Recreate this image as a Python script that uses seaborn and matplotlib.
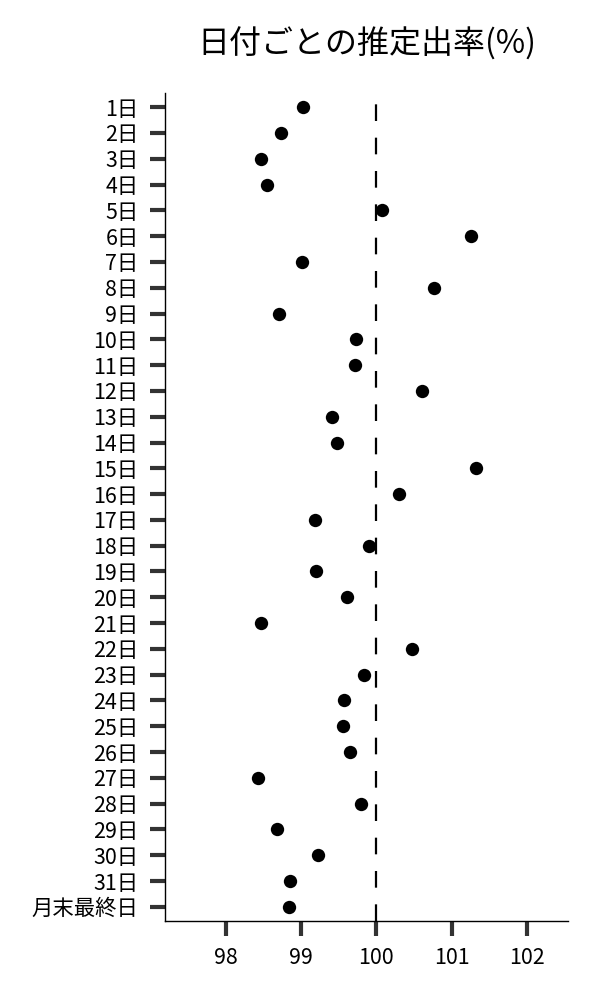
import matplotlib
matplotlib.use("Agg")
import matplotlib.pyplot as plt
import seaborn as sns
import pandas as pd

days = [f"{i}日" for i in range(1, 32)] + ["月末最終日"]
rates = [99.02, 98.73, 98.46, 98.55, 100.08, 101.26, 99.01, 100.76, 98.71, 99.73,
         99.71, 100.61, 99.41, 99.48, 101.33, 100.30, 99.19, 99.90, 99.20, 99.61,
         98.46, 100.48, 99.84, 99.57, 99.55, 99.65, 98.43, 99.80, 98.68, 99.22,
         98.85, 98.84]
xticks = [98, 99, 100, 101, 102]
reference = 100
title = "日付ごとの推定出率(%)"

sns.set_theme(style="ticks")
plt.rcParams['font.family'] = ['Noto Sans CJK JP', 'DejaVu Sans']
plt.rcParams['lines.scale_dashes'] = False

df = pd.DataFrame({"day": days, "rate": rates})

fig = plt.figure(figsize=(6, 10), dpi=100)
ax = fig.add_axes([0.275, 0.079, 0.672, 0.828])

sns.stripplot(data=df, x="rate", y="day", order=days, jitter=False,
              color="black", size=9.6, linewidth=0, ax=ax)
ax.axvline(reference, color="black", lw=1.6, linestyle=(0, (12, 12)))

ax.set_xlim(97.19, 102.55)
ax.set_ylim(len(days) - 0.45, -0.55)
ax.set_xticks(xticks)
ax.set_xticklabels([str(t) for t in xticks])
ax.set_xlabel("")
ax.set_ylabel("")
ax.tick_params(axis="both", which="major", length=11, width=3, color="#333333",
               labelsize=15.4, labelcolor="black", pad=8)
for s in ["left", "bottom"]:
    ax.spines[s].set_color("black")
    ax.spines[s].set_linewidth(1.0)
sns.despine(ax=ax)
ax.set_title(title, fontsize=23, pad=28, color="black")

fig.savefig("out.png", dpi=100)
